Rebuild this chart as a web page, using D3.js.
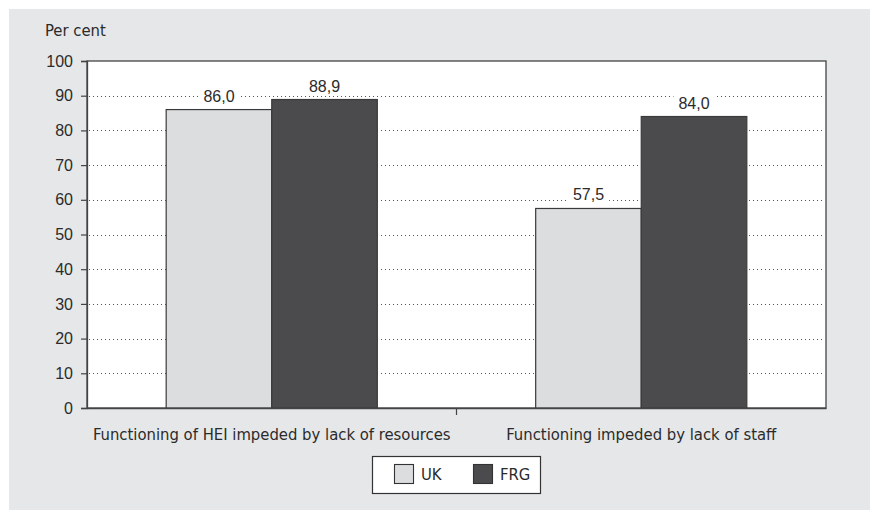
<!DOCTYPE html>
<html><head><meta charset="utf-8">
<script src="https://cdn.jsdelivr.net/npm/d3@7"></script>
<style>
body{margin:0;padding:0;background:#fff;}
svg{display:block;}
text{font-family:"Liberation Sans Narrow","DejaVu Sans Condensed","Roboto Condensed",sans-serif;fill:#2b2b2b;}
</style></head>
<body>
<script>
const categories = ["Functioning of HEI impeded by lack of resources", "Functioning impeded by lack of staff"];
const seriesNames = ["UK", "FRG"];
const ukValues = [86.0, 57.5];
const frgValues = [88.9, 84.0];
const yTicks = [0,10,20,30,40,50,60,70,80,90,100];
const yTitle = "Per cent";

const W = 870, H = 510;
const colors = {UK:"#dcdddf", FRG:"#4b4b4d"};
const margin = {left:87, right:44, top:61, bottom:102};

const svg = d3.select("body").append("svg").attr("width",W).attr("height",H);
svg.append("rect").attr("x",9).attr("y",9).attr("width",W-9).attr("height",H-9).attr("fill","#e6e7e8");

const x0 = d3.scaleBand().domain(categories).range([margin.left, W-margin.right]).paddingInner(0).paddingOuter(0);
const x1 = d3.scaleBand().domain(seriesNames).range([0, x0.bandwidth()]).paddingInner(0).paddingOuter(0.75);
const y = d3.scaleLinear().domain([0,100]).range([H-margin.bottom, margin.top]);

// plot area
svg.append("rect").attr("x",margin.left).attr("y",margin.top)
  .attr("width",W-margin.right-margin.left).attr("height",H-margin.bottom-margin.top)
  .attr("fill","#fff").attr("stroke","#444").attr("stroke-width",1.3);

// gridlines
svg.append("g").selectAll("line").data(yTicks.filter(d=>d>0&&d<100)).join("line")
  .attr("x1",margin.left+2).attr("x2",W-margin.right-2)
  .attr("y1",d=>Math.round(y(d))+0.5).attr("y2",d=>Math.round(y(d))+0.5)
  .attr("stroke","#555").attr("stroke-width",1).attr("stroke-dasharray","1,3");

const data = categories.map((c,i)=>({cat:c, vals:[{s:"UK",v:ukValues[i]},{s:"FRG",v:frgValues[i]}]}));

const groups = svg.append("g").selectAll("g").data(data).join("g")
  .attr("transform",d=>`translate(${x0(d.cat)},0)`);
groups.selectAll("rect").data(d=>d.vals).join("rect")
  .attr("x",d=>x1(d.s)).attr("width",x1.bandwidth())
  .attr("y",d=>y(d.v)).attr("height",d=>y(0)-y(d.v))
  .attr("fill",d=>colors[d.s]).attr("stroke","#3a3a3a").attr("stroke-width",1.2);

// value labels with white background
groups.each(function(d){
  const g = d3.select(this);
  d.vals.forEach(v=>{
    const cx = x1(v.s)+x1.bandwidth()/2;
    const ty = y(v.v)-8;
    const label = d3.format(".1f")(v.v).replace(".",",");
    const t = g.append("text").attr("x",cx).attr("y",ty).attr("text-anchor","middle")
      .attr("font-size",16).style("font-family","'Liberation Sans','Arial',sans-serif").text(label);
    const bb = t.node().getBBox();
    g.insert("rect","text").attr("x",bb.x-5).attr("y",bb.y+1).attr("width",bb.width+10).attr("height",bb.height-2).attr("fill","#fff");
  });
});

// y axis
const yAxis = d3.axisLeft(y).tickValues(yTicks).tickSize(6).tickPadding(8).tickFormat(d3.format("d"));
const ya = svg.append("g").attr("transform",`translate(${margin.left},0)`).call(yAxis);
ya.select(".domain").attr("stroke","#444").attr("stroke-width",1.3);
ya.selectAll(".tick line").attr("stroke","#444").attr("stroke-width",1.2);
ya.selectAll("text").attr("font-size",16).style("font-family","'Liberation Sans','Arial',sans-serif").attr("fill","#2b2b2b");

// x axis
const xAxis = d3.axisBottom(x0).tickSize(0).tickPadding(20);
const xa = svg.append("g").attr("transform",`translate(0,${H-margin.bottom})`).call(xAxis);
xa.select(".domain").attr("stroke","#444").attr("stroke-width",1.3);
xa.selectAll("text").attr("font-size",16.5).attr("fill","#2b2b2b");
// tick between categories
svg.append("line").attr("x1",x0(categories[1])).attr("x2",x0(categories[1]))
  .attr("y1",y(0)).attr("y2",y(0)+7).attr("stroke","#444").attr("stroke-width",1.2);

// y title
svg.append("text").attr("x",45).attr("y",36).attr("font-size",16.5).text(yTitle);

// legend
const lg = svg.append("g");
lg.append("rect").attr("x",372.5).attr("y",456.5).attr("width",168).attr("height",37).attr("fill","#fff").attr("stroke","#333").attr("stroke-width",1.2);
const legX = [394, 473];
seriesNames.forEach((s,i)=>{
  lg.append("rect").attr("x",legX[i]+0.5).attr("y",464.5).attr("width",19).attr("height",19)
    .attr("fill",colors[s]).attr("stroke","#333").attr("stroke-width",1.1);
  lg.append("text").attr("x",legX[i]+27).attr("y",480).attr("font-size",16.5).text(s);
});
</script>
</body></html>
